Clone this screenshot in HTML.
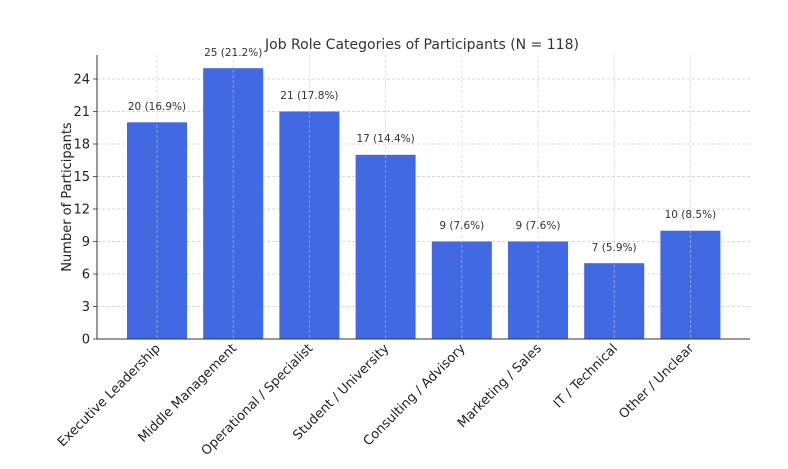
<!DOCTYPE html>
<html><head><meta charset="utf-8"><style>
html,body{margin:0;padding:0;background:#fff;}
svg{display:block;font-family:"DejaVu Sans","Liberation Sans",sans-serif;}
</style></head><body>
<svg width="788" height="469" viewBox="0 0 788 469" xmlns="http://www.w3.org/2000/svg">
<rect width="788" height="469" fill="#fff"/>
<g stroke="#cccccc" stroke-width="0.8" stroke-dasharray="3,2">
<line x1="97" x2="750" y1="306.5" y2="306.5"/>
<line x1="97" x2="750" y1="274" y2="274"/>
<line x1="97" x2="750" y1="241.5" y2="241.5"/>
<line x1="97" x2="750" y1="209" y2="209"/>
<line x1="97" x2="750" y1="176.5" y2="176.5"/>
<line x1="97" x2="750" y1="144" y2="144"/>
<line x1="97" x2="750" y1="111.5" y2="111.5"/>
<line x1="97" x2="750" y1="79" y2="79"/>
</g>
<g fill="#4169e1">
<rect x="127" y="122.3" width="60" height="216.7"/>
<rect x="203.2" y="68.2" width="60" height="270.8"/>
<rect x="279.4" y="111.5" width="60" height="227.5"/>
<rect x="355.6" y="154.8" width="60" height="184.2"/>
<rect x="431.8" y="241.5" width="60" height="97.5"/>
<rect x="508" y="241.5" width="60" height="97.5"/>
<rect x="584.2" y="263.2" width="60" height="75.8"/>
<rect x="660.4" y="230.7" width="60" height="108.3"/>
</g>
<g stroke="#cccccc" stroke-width="0.8" stroke-dasharray="3,2" opacity="0.7">
<line x1="157" x2="157" y1="55" y2="339"/>
<line x1="233.2" x2="233.2" y1="55" y2="339"/>
<line x1="309.4" x2="309.4" y1="55" y2="339"/>
<line x1="385.6" x2="385.6" y1="55" y2="339"/>
<line x1="461.8" x2="461.8" y1="55" y2="339"/>
<line x1="538" x2="538" y1="55" y2="339"/>
<line x1="614.2" x2="614.2" y1="55" y2="339"/>
<line x1="690.4" x2="690.4" y1="55" y2="339"/>
</g>
<line x1="97" x2="97" y1="55" y2="339.5" stroke="#333" stroke-width="1"/>
<line x1="96.5" x2="750" y1="339" y2="339" stroke="#333" stroke-width="1"/>
<g stroke="#333" stroke-width="0.8">
<line x1="93" x2="97" y1="339" y2="339"/><line x1="93" x2="97" y1="306.5" y2="306.5"/><line x1="93" x2="97" y1="274" y2="274"/><line x1="93" x2="97" y1="241.5" y2="241.5"/><line x1="93" x2="97" y1="209" y2="209"/><line x1="93" x2="97" y1="176.5" y2="176.5"/><line x1="93" x2="97" y1="144" y2="144"/><line x1="93" x2="97" y1="111.5" y2="111.5"/><line x1="93" x2="97" y1="79" y2="79"/>
</g>
<g font-size="13" fill="#222" text-anchor="end">
<text x="90" y="343.5">0</text><text x="90" y="311">3</text><text x="90" y="278.5">6</text><text x="90" y="246">9</text><text x="90" y="213.5">12</text><text x="90" y="181">15</text><text x="90" y="148.5">18</text><text x="90" y="116">21</text><text x="90" y="83.5">24</text>
</g>
<text transform="translate(71,197) rotate(-90)" font-size="13" fill="#222" text-anchor="middle">Number of Participants</text>
<text x="422" y="49" font-size="14" fill="#333" text-anchor="middle">Job Role Categories of Participants (N = 118)</text>
<g font-size="10.5" fill="#333" text-anchor="middle">
<text x="157" y="110">20 (16.9%)</text>
<text x="233.2" y="56">25 (21.2%)</text>
<text x="309.4" y="99">21 (17.8%)</text>
<text x="385.6" y="142">17 (14.4%)</text>
<text x="461.8" y="229">9 (7.6%)</text>
<text x="538" y="229">9 (7.6%)</text>
<text x="614.2" y="251">7 (5.9%)</text>
<text x="690.4" y="218">10 (8.5%)</text>
</g>
<g font-size="13" fill="#222" text-anchor="end">
<text transform="translate(161,349) rotate(-45)">Executive Leadership</text>
<text transform="translate(237.2,349) rotate(-45)">Middle Management</text>
<text transform="translate(313.4,349) rotate(-45)">Operational / Specialist</text>
<text transform="translate(389.6,349) rotate(-45)">Student / University</text>
<text transform="translate(465.8,349) rotate(-45)">Consulting / Advisory</text>
<text transform="translate(542,349) rotate(-45)">Marketing / Sales</text>
<text transform="translate(618.2,349) rotate(-45)">IT / Technical</text>
<text transform="translate(694.4,349) rotate(-45)">Other / Unclear</text>
</g>
</svg>
</body></html>
